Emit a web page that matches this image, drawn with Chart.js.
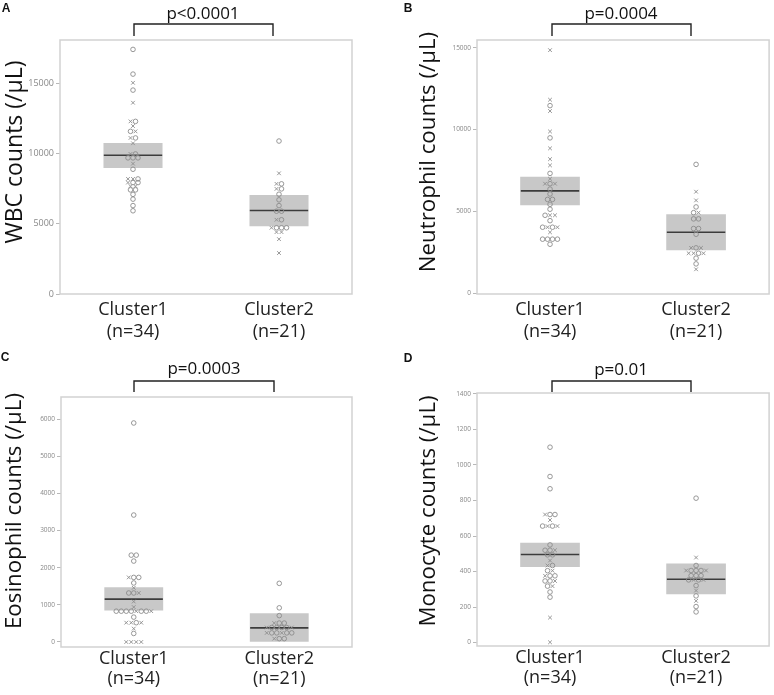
<!DOCTYPE html>
<html>
<head>
<meta charset="utf-8">
<script src="https://cdn.jsdelivr.net/npm/chart.js@4.4.1/dist/chart.umd.min.js"></script>
<style>
  body { margin: 0; background: #fff; }
  #wrap { position: relative; width: 774px; height: 695px; }
  canvas { position: absolute; }
</style>
</head>
<body>
<div id="wrap">
  <canvas id="cA" width="387" height="347" style="left:0;top:0"></canvas>
  <canvas id="cB" width="387" height="347" style="left:387px;top:0"></canvas>
  <canvas id="cC" width="387" height="348" style="left:0;top:347px"></canvas>
  <canvas id="cD" width="387" height="348" style="left:387px;top:347px"></canvas>
</div>
<script>
// categories
const clusters = [['Cluster1', '(n=34)'], ['Cluster2', '(n=21)']];

// WBC (panel A): values and marker ('o' circle, 'x' cross), read row by row
const wbc1 = [17430, 15670, 15050, 14530, 13630, 12300, 12300, 11970, 11590, 11590, 11120, 11120, 10740,
  9980, 9980, 9700, 9700, 9700, 9290, 8890, 8200, 8200, 8200, 7940, 7940, 7940, 7680, 7680, 7420, 7420,
  7100, 6760, 6300, 5930];
const wbc1Mark = 'ooxoxxoxoxxoxxoooox' + 'oxxoxooxxoooooo';
const wbc2 = [10900, 8600, 7850, 7850, 7490, 7490, 7110, 6710, 6300, 5900, 5900, 5290, 5290,
  4720, 4720, 4720, 4720, 4410, 4410, 3910, 2920];
const wbc2Mark = 'oxxoxoooooo' + 'xoxoooxxxx';

// Neutrophil (panel B)
const neu1 = [14850, 11820, 11460, 11130, 9880, 9490, 8850, 8190, 7810, 7320, 6990, 6690, 6690, 6690,
  6360, 6060, 5730, 5730, 5430, 5130, 4760, 4760, 4760, 4430, 4030, 4030, 4030, 4030, 3720,
  3300, 3300, 3300, 3300, 2990];
const neu1Mark = 'xxoxxoxxxoxxox' + 'oooooooxxoo' + 'xoxxooooo';
const neu2 = [7870, 6200, 5670, 5270, 4920, 4920, 4540, 4540, 3950, 3950, 3600, 2770, 2770, 2770,
  2440, 2440, 2440, 2440, 2140, 1790, 1460];
const neu2Mark = 'oxxooxooooo' + 'xoxxxoxoox';

// Eosinophil (panel C)
const eos1 = [5900, 3420, 2340, 2340, 2180, 1740, 1740, 1740, 1590, 1460, 1320, 1320, 1320, 1090, 940,
  830, 830, 830, 830, 830, 830, 830, 830, 670, 520, 520, 520, 520, 360, 230, 0, 0, 0, 0];
const eos1Mark = 'oooooxoooxoox' + 'xx' + 'ooooxoox' + 'o' + 'xxox' + 'xo' + 'xxxx';
const eos2 = [1580, 920, 710, 510, 510, 510, 390, 390, 390, 390, 390, 390,
  245, 245, 245, 245, 245, 245, 90, 90, 90];
const eos2Mark = 'oooxoo' + 'xoooox' + 'xooxoo' + 'xoo';

// Monocyte (panel D)
const mono1 = [1100, 935, 866, 721, 721, 721, 690, 656, 656, 656, 656, 550, 520, 520, 520, 494, 494,
  462, 434, 434, 405, 405, 376, 376, 376, 347, 347, 347, 318, 318, 285, 256, 141, 2];
const mono1Mark = 'oooxoox' + 'oxox' + 'oooxoo' + 'xxoox' + 'xooooxox' + 'ooxx';
const mono2 = [813, 479, 434, 406, 406, 406, 406, 406, 377, 377, 377, 353, 353, 353, 353,
  321, 293, 263, 235, 203, 173];
const mono2Mark = 'oxo' + 'xooox' + 'ooo' + 'oxox' + 'oxoxoo';

// box stats per cluster
const wbcQ1 = [9000, 4860], wbcMed = [9890, 5950], wbcQ3 = [10740, 7040];
const neuQ1 = [5400, 2640], neuMed = [6250, 3720], neuQ3 = [7095, 4810];
const eosQ1 = [855, 0], eosMed = [1155, 380], eosQ3 = [1466, 765];
const monoQ1 = [428, 274], monoMed = [496, 357], monoQ3 = [560, 443];

// y tick labels
const wbcTicks = [0, 5000, 10000, 15000];
const neuTicks = [0, 5000, 10000, 15000];
const eosTicks = [0, 1000, 2000, 3000, 4000, 5000, 6000];
const monoTicks = [0, 200, 400, 600, 800, 1000, 1200, 1400];

const panels = [
  { canvas: 'cA', letter: 'A', title: 'WBC counts (/μL)', p: 'p<0.0001',
    v: [wbc1, wbc2], m: [wbc1Mark, wbc2Mark], q1: wbcQ1, med: wbcMed, q3: wbcQ3, ticks: wbcTicks,
    min: 0, max: 18100, w: 387, h: 347, area: { l: 60, r: 352, t: 40, b: 294 }, tickFont: 9,
    xPad: 5, xLine: 1.2,
    titleSize: 23, titleAt: [15, 152], pAt: [203, 14], bracket: [134, 273, 24, 36], letterAt: [6, 9] },
  { canvas: 'cB', letter: 'B', title: 'Neutrophil counts (/μL)', p: 'p=0.0004',
    v: [neu1, neu2], m: [neu1Mark, neu2Mark], q1: neuQ1, med: neuMed, q3: neuQ3, ticks: neuTicks,
    min: -50, max: 15470, w: 387, h: 347, area: { l: 90, r: 385, t: 40, b: 294 }, tickFont: 6.5,
    xPad: 5, xLine: 1.2,
    titleSize: 22.3, titleAt: [42, 152], pAt: [234, 14], bracket: [165, 304, 24, 36], letterAt: [21, 9] },
  { canvas: 'cC', letter: 'C', title: 'Eosinophil counts (/μL)', p: 'p=0.0003',
    v: [eos1, eos2], m: [eos1Mark, eos2Mark], q1: eosQ1, med: eosMed, q3: eosQ3, ticks: eosTicks,
    min: -135, max: 6600, w: 387, h: 348, area: { l: 61, r: 352, t: 50, b: 300 }, tickFont: 6.5,
    xPad: 2, xLine: 1.1,
    titleSize: 22.3, titleAt: [15, 164], pAt: [204, 22], bracket: [134, 274, 34, 45], letterAt: [5, 11] },
  { canvas: 'cD', letter: 'D', title: 'Monocyte counts (/μL)', p: 'p=0.01',
    v: [mono1, mono2], m: [mono1Mark, mono2Mark], q1: monoQ1, med: monoMed, q3: monoQ3, ticks: monoTicks,
    min: -19, max: 1405, w: 387, h: 348, area: { l: 90, r: 385, t: 46, b: 299 }, tickFont: 6.5,
    xPad: 2, xLine: 1.1,
    titleSize: 22.3, titleAt: [42, 164], pAt: [234, 23], bracket: [165, 304, 34, 45], letterAt: [21, 12] }
];

const FONT = '"Open Sans", "Noto Sans", sans-serif';
const BOX_HALF = 0.2;

// spread equal values side by side (beeswarm rows)
function swarm(values, step) {
  const counts = {}, seen = {};
  values.forEach(v => counts[v] = (counts[v] || 0) + 1);
  return values.map(v => {
    seen[v] = (seen[v] === undefined ? 0 : seen[v] + 1);
    return (seen[v] - (counts[v] - 1) / 2) * step;
  });
}

const annotate = {
  id: 'annotate',
  beforeDatasetsDraw(chart, args, o) {
    const a = chart.chartArea, ctx = chart.ctx;
    ctx.save();
    ctx.strokeStyle = '#d2d2d2';
    ctx.lineWidth = 1.5;
    ctx.strokeRect(a.left, a.top, a.right - a.left, a.bottom - a.top);
    ctx.restore();
  },
  afterDraw(chart, args, o) {
    const ctx = chart.ctx;
    ctx.save();
    ctx.fillStyle = '#111';
    ctx.font = 'bold 12px "Liberation Sans", Arial, sans-serif';
    ctx.textAlign = 'center';
    ctx.textBaseline = 'middle';
    ctx.fillText(o.letter, o.letterAt[0], o.letterAt[1]);

    ctx.font = '17px ' + FONT;
    ctx.fillText(o.p, o.pAt[0], o.pAt[1]);

    const [x1, x2, y1, y2] = o.bracket;
    ctx.strokeStyle = '#222';
    ctx.lineWidth = 1.4;
    ctx.beginPath();
    ctx.moveTo(x1, y2); ctx.lineTo(x1, y1); ctx.lineTo(x2, y1); ctx.lineTo(x2, y2);
    ctx.stroke();

    ctx.translate(o.titleAt[0], o.titleAt[1]);
    ctx.rotate(-Math.PI / 2);
    ctx.font = o.titleSize + 'px ' + FONT;
    ctx.fillText(o.title, 0, 0);
    ctx.restore();
  }
};

panels.forEach(pn => {
  const a = pn.area;
  const unitPx = (a.r - a.l) / 2;
  const step = 5 / unitPx;
  const circles = [], crosses = [];
  pn.v.forEach((vals, c) => {
    const off = swarm(vals, step);
    vals.forEach((y, i) => {
      (pn.m[c][i] === 'x' ? crosses : circles).push({ x: c + off[i], y: y });
    });
  });

  const medianSets = pn.med.map((m, c) => ({
    type: 'line',
    data: [{ x: c - BOX_HALF, y: m }, { x: c + BOX_HALF, y: m }],
    borderColor: '#3c3c3c', borderWidth: 1.6, pointRadius: 0, order: 1
  }));

  new Chart(document.getElementById(pn.canvas), {
    type: 'scatter',
    data: {
      datasets: [
        { type: 'bar', data: pn.q1.map((q, c) => ({ x: c, y: [q, pn.q3[c]] })),
          backgroundColor: '#c8c8c8', borderWidth: 0, barThickness: BOX_HALF * 2 * unitPx,
          order: 3 },
        ...medianSets,
        { data: circles, pointStyle: 'circle', pointRadius: 2.3, borderWidth: 0.9,
          borderColor: '#8c8c8c', backgroundColor: 'rgba(0,0,0,0)', order: 0 },
        { data: crosses, pointStyle: 'crossRot', pointRadius: 2.6, borderWidth: 0.9,
          borderColor: '#8c8c8c', order: 0 }
      ]
    },
    options: {
      responsive: false,
      animation: false,
      layout: { padding: { left: 0, top: a.t, right: pn.w - a.r, bottom: 0 } },
      plugins: {
        legend: { display: false },
        tooltip: { enabled: false },
        annotate: { letter: pn.letter, letterAt: pn.letterAt, p: pn.p, pAt: pn.pAt,
          bracket: pn.bracket, title: pn.title, titleAt: pn.titleAt, titleSize: pn.titleSize }
      },
      scales: {
        x: {
          type: 'linear', min: -0.5, max: 1.5, offset: false,
          grid: { display: false, drawTicks: false, tickLength: 0, offset: false },
          border: { display: false },
          afterBuildTicks: s => { s.ticks = clusters.map((_, i) => ({ value: i })); },
          afterFit: s => { s.height = pn.h - a.b; },
          ticks: {
            callback: v => clusters[v],
            color: '#222', padding: pn.xPad,
            font: { family: FONT, size: 18, lineHeight: pn.xLine },
            maxRotation: 0, autoSkip: false
          }
        },
        y: {
          min: pn.min, max: pn.max,
          grid: { drawOnChartArea: false, drawTicks: true, tickLength: 4, color: '#b8b8b8' },
          border: { display: false },
          afterBuildTicks: s => { s.ticks = pn.ticks.map(v => ({ value: v })); },
          afterFit: s => { s.width = a.l; },
          ticks: { color: '#888', padding: 2, font: { family: FONT, size: pn.tickFont },
            callback: v => String(v) }
        }
      }
    },
    plugins: [annotate]
  });
});
</script>
</body>
</html>
